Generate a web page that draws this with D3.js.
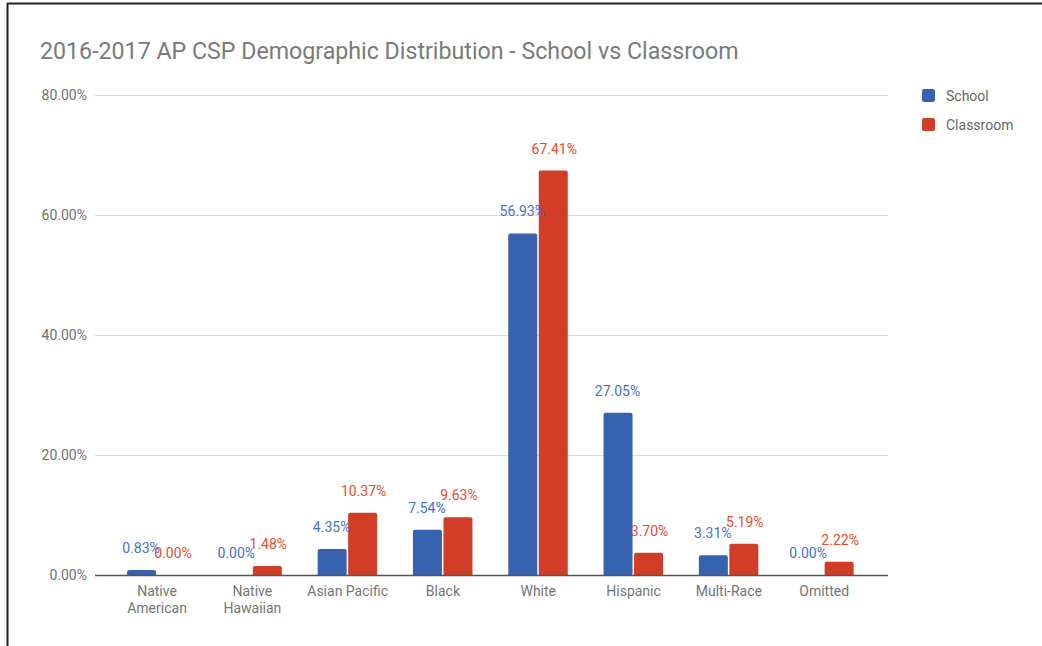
<!DOCTYPE html>
<html><head><meta charset="utf-8">
<script src="https://cdn.jsdelivr.net/npm/d3@7"></script>
<style>body{margin:0;background:#fff;} svg{display:block;font-family:Roboto, "Noto Sans", sans-serif;}</style>
</head><body>
<svg id="c" width="1042" height="646"></svg>
<script>
const categories = [["Native","American"],["Native","Hawaiian"],["Asian Pacific"],["Black"],["White"],["Hispanic"],["Multi-Race"],["Omitted"]];
const school = [0.83, 0.00, 4.35, 7.54, 56.93, 27.05, 3.31, 0.00];
const classroom = [0.00, 1.48, 10.37, 9.63, 67.41, 3.70, 5.19, 2.22];
const yTicks = [0, 20, 40, 60, 80];
const seriesNames = ["School", "Classroom"];

const svg = d3.select("#c");
// frame
svg.append("line").attr("x1",7.5).attr("x2",7.5).attr("y1",3).attr("y2",646).attr("stroke","#222").attr("stroke-width",2);
svg.append("line").attr("x1",7).attr("x2",1042).attr("y1",3.5).attr("y2",3.5).attr("stroke","#222").attr("stroke-width",2);

const x = d3.scaleBand().domain(d3.range(categories.length)).range([109.4, 871.8]);
const y = d3.scaleLinear().domain([0, 80]).range([575, 95]);
const bw = 30;

svg.append("text").attr("x",40).attr("y",58.5).attr("font-size",23.2).attr("fill","#7a7a7a")
  .text("2016-2017 AP CSP Demographic Distribution - School vs Classroom");

// gridlines
svg.append("g").selectAll("line").data(yTicks.filter(d=>d>0)).join("line")
  .attr("x1",95).attr("x2",888).attr("y1",d=>y(d)+0.5).attr("y2",d=>y(d)+0.5)
  .attr("stroke","#d9d9d9").attr("stroke-width",1);
svg.append("g").selectAll("text").data(yTicks).join("text")
  .attr("x",87).attr("y",d=>y(d)+5).attr("text-anchor","end").attr("font-size",14).attr("fill","#707070")
  .text(d=>d.toFixed(2)+"%");

const cx = i => x(i) + x.bandwidth()/2;
const blue = "#3762b0", red = "#d23d27";
const blueT = "#4472d0", redT = "#e84a2c";

function bars(vals, off, col){
  svg.append("g").selectAll("path").data(vals).join("path")
    .attr("fill", col)
    .attr("d",(d,i)=>{
      const x0 = cx(i)+off, top = y(d), h = 575 - top;
      if (h <= 0) return "";
      const r = Math.min(2, h);
      return `M${x0},575 V${top+r} Q${x0},${top} ${x0+r},${top} H${x0+bw-1-r} Q${x0+bw-1},${top} ${x0+bw-1},${top+r} V575 Z`;
    });
}
bars(school, -bw, blue);
bars(classroom, 0.5, red);

function labels(vals, off, col){
  svg.append("g").selectAll("text").data(vals).join("text")
    .attr("x",(d,i)=>cx(i)+off).attr("y",d=>y(d)-17).attr("text-anchor","middle")
    .attr("font-size",14).attr("fill",col).text(d=>d.toFixed(2)+"%");
}
labels(school, -bw/2 - 1, blueT);
labels(classroom, bw/2 + 1, redT);

// axis baseline
svg.append("line").attr("x1",95).attr("x2",888).attr("y1",575.5).attr("y2",575.5).attr("stroke","#555").attr("stroke-width",1.3);

// category labels
const cl = svg.append("g").selectAll("text").data(categories).join("text")
  .attr("x",(d,i)=>cx(i)).attr("y",595.5).attr("text-anchor","middle").attr("font-size",14).attr("fill","#757575");
cl.selectAll("tspan").data(d=>d).join("tspan").attr("x",function(){return this.parentNode.getAttribute("x");})
  .attr("dy",(d,j)=>j===0?0:17.5).text(d=>d);

// legend
const lg = svg.append("g").selectAll("g").data(seriesNames).join("g")
  .attr("transform",(d,i)=>`translate(922,${89+i*29})`);
lg.append("rect").attr("width",13).attr("height",13).attr("rx",2).attr("fill",(d,i)=>i?red:blue);
lg.append("text").attr("x",24).attr("y",11.5).attr("font-size",14).attr("fill","#666").text(d=>d);
</script>
</body></html>
